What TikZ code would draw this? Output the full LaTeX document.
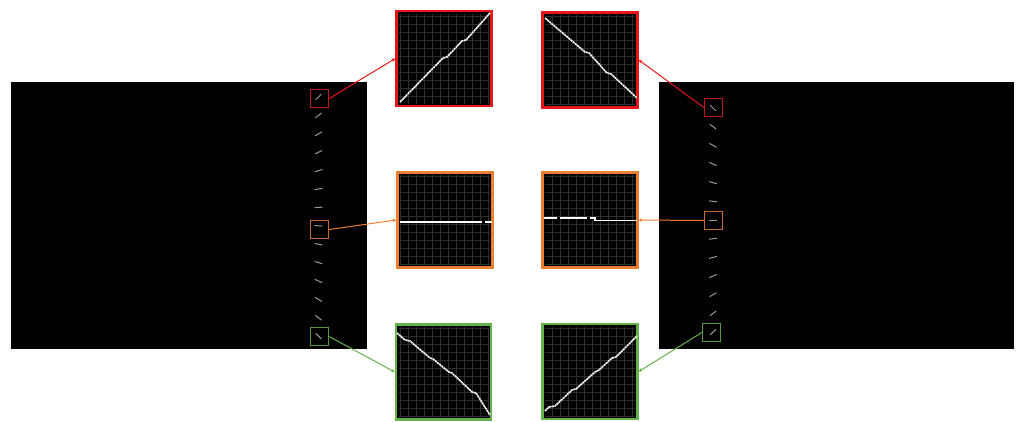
\documentclass[tikz,border=0pt]{standalone}
\usetikzlibrary{arrows.meta}
\definecolor{zred}{RGB}{232,22,22}
\definecolor{zorange}{RGB}{237,125,49}
\definecolor{zgreen}{RGB}{100,178,76}
\definecolor{sred}{RGB}{190,25,25}
\definecolor{sorange}{RGB}{200,105,45}
\definecolor{sgreen}{RGB}{85,150,65}
\tikzset{
  zoombox/.style={draw=#1, line width=2.5pt, fill=black, minimum size=95pt, inner sep=0pt},
  smallbox/.style={draw=#1, line width=1.3pt, minimum size=18pt, inner sep=0pt},
  link/.style={draw=#1, line width=1pt, -{Stealth[length=3.5pt,width=3.5pt]}},
  trace/.style={white, line width=1.6pt, dash pattern=on 2.2pt off 0.6pt},
  tick/.style={gray!80, line width=1pt},
  gridline/.style={black!82!white, line width=0.25pt}
}
\newcommand{\zoomgrid}[1]{%
  \draw[gridline, step=8pt] ([shift={(-45pt,-45pt)}]#1.center) grid ([shift={(45pt,45pt)}]#1.center);}
\begin{document}
\begin{tikzpicture}[x=1pt, y=-1pt]
        \useasboundingbox (0,0) rectangle (1019,421);

        % Images
        \fill[black] (11,82) rectangle (367,349);
        \fill[black] (659,82) rectangle (1014,349);

        % Ticks, left image
        \foreach \i in {0,...,13} {
          \pgfmathsetmacro\ang{45-90*\i/13}
          \draw[tick, shift={(318.5,{97+18.4*\i})}, rotate=\ang] (-4,0) -- (4,0);
        }
        % Ticks, right image
        \foreach \i in {0,...,12} {
          \pgfmathsetmacro\ang{-45+90*\i/12}
          \draw[tick, shift={(713,{108+18.67*\i})}, rotate=\ang] (-4,0) -- (4,0);
        }

        % Small boxes
        \node[smallbox=sred]    (ls1) at (319.5,98.5)  {};
        \node[smallbox=sorange] (ls2) at (319.5,229.5) {};
        \node[smallbox=sgreen]  (ls3) at (319.5,336.5) {};
        \node[smallbox=sred]    (rs1) at (713.5,107.5) {};
        \node[smallbox=sorange] (rs2) at (713.5,220.5) {};
        \node[smallbox=sgreen]  (rs3) at (711.5,332.5) {};

        % Zoomed boxes
        \node[zoombox=zred]    (lz1) at (444,58.5) {};
        \node[zoombox=zorange] (lz2) at (445,220)  {};
        \node[zoombox=zgreen]  (lz3) at (443.5,372) {};
        \node[zoombox=zred]    (rz1) at (590,60)   {};
        \node[zoombox=zorange] (rz2) at (590,220)  {};
        \node[zoombox=zgreen]  (rz3) at (590,371.5) {};
        \foreach \b in {lz1,lz2,lz3,rz1,rz2,rz3} {\zoomgrid{\b}}

        % Traces
        \draw[trace] (400,102) -- (443,58) -- (447,57) -- (462,41) -- (466,40) -- (490,13);
        \draw[trace] (545,18) -- (585,52) -- (589,53) -- (607,73) -- (611,74) -- (637,98);
        \draw[white, line width=1.6pt] (400,222) -- (482,222) (484.5,222) -- (492,222);
        \draw[white, line width=1.6pt] (544,218) -- (557,218) (560,218) -- (587,218) (589.5,218) -- (595,218)
              -- (595,220.5) -- (637,220.5);
        \draw[trace] (397,333) -- (405,340) -- (410,341) -- (430,358) -- (433,359) -- (449,372)
              -- (452,373) -- (472,392) -- (476,393) -- (490,415);
        \draw[trace] (545,411) -- (549,407) -- (555,406) -- (572,390) -- (576,389) -- (595,372)
              -- (599,370) -- (612,358) -- (616,357) -- (630,343) -- (637,336);

        % Connectors
        \draw[link=zred]    (ls1.east) -- (lz1.west);
        \draw[link=zorange] (ls2.east) -- (lz2.west);
        \draw[link=zgreen]  (ls3.east) -- (lz3.west);
        \draw[link=zred]    (rs1.west) -- (rz1.east);
        \draw[link=zorange] (rs2.west) -- (rz2.east);
        \draw[link=zgreen]  (rs3.west) -- (rz3.east);
    \end{tikzpicture}
\end{document}
